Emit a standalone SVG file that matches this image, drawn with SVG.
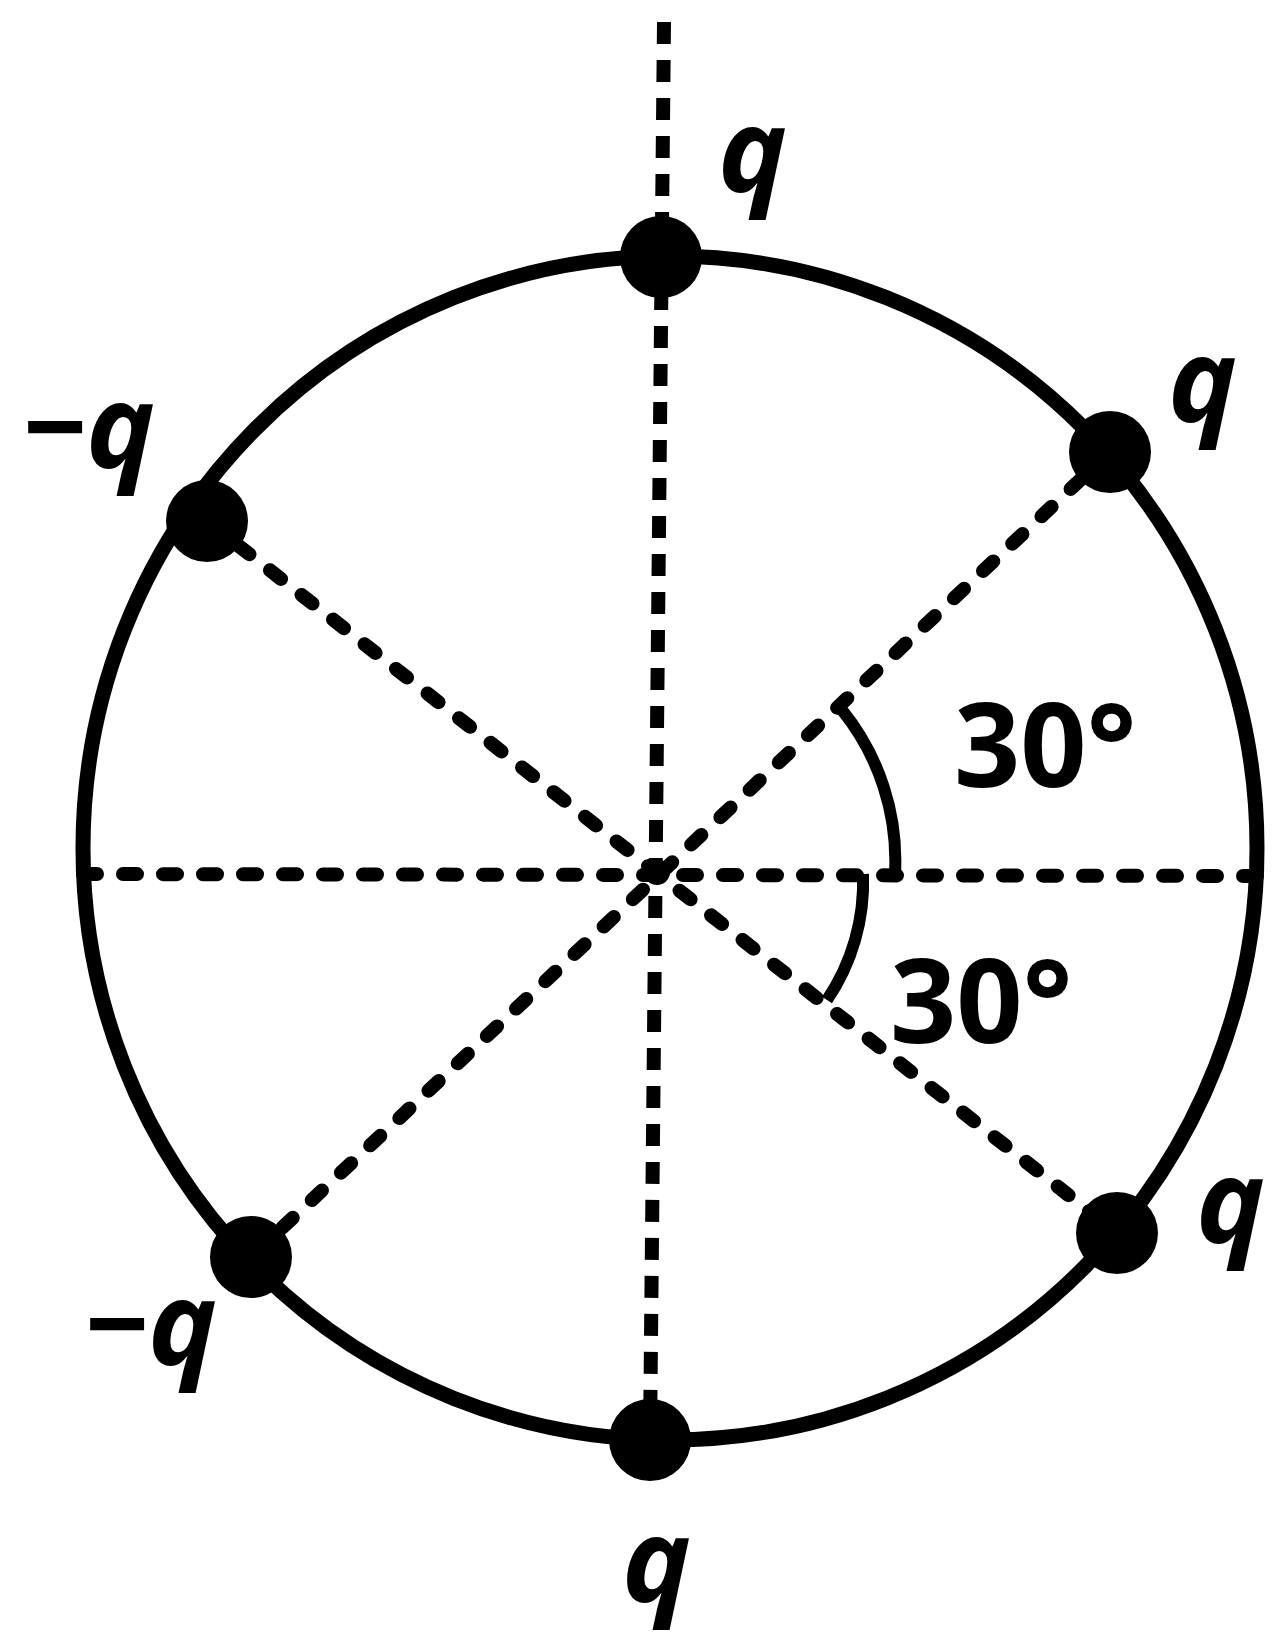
<svg xmlns="http://www.w3.org/2000/svg" width="1277" height="1647" viewBox="0 0 1277 1647">
<style>
.ring{fill:none;stroke:#000;stroke-width:15}
.dash{fill:none;stroke:#000;stroke-width:14;stroke-linecap:round;stroke-dasharray:14 26}
.vdash{fill:none;stroke:#000;stroke-width:14;stroke-dasharray:22 16}
.arc{fill:none;stroke:#000;stroke-width:12}
.charge{fill:#000}
.lbl{font-family:"Open Sans","DejaVu Sans",sans-serif;font-weight:bold;font-style:italic;font-size:116px;fill:#000}
.ang{font-family:"Open Sans","DejaVu Sans",sans-serif;font-weight:bold;font-size:116px;fill:#000}
</style>
<rect width="1277" height="1647" fill="#fff"/>
<g id="connectors">
<line class="vdash" x1="664" y1="22" x2="650" y2="1440"/>
<line class="dash" x1="83" y1="874" x2="1257" y2="876"/>
<line class="dash" x1="207" y1="521" x2="1117" y2="1233"/>
<line class="dash" x1="1110" y1="452" x2="251" y2="1257"/>
<circle cx="657" cy="872" r="13" fill="#000"/>
</g>
<g id="ring">
<ellipse class="ring" cx="670" cy="848" rx="587" ry="592"/>
</g>
<g id="angles">
<path class="arc" d="M842 710 A240 240 0 0 1 895 874"/>
<path class="arc" d="M863 874 A210 210 0 0 1 827 1000"/>
<text class="ang" x="954" y="787">30°</text>
<text class="ang" x="890" y="1043">30°</text>
</g>
<g id="charge-top">
<circle class="charge" cx="661" cy="257" r="41"/>
<text class="lbl" x="718" y="192">q</text>
</g>
<g id="charge-upper-left">
<circle class="charge" cx="207" cy="521" r="41"/>
<text class="lbl" x="22" y="468">−q</text>
</g>
<g id="charge-upper-right">
<circle class="charge" cx="1110" cy="452" r="41"/>
<text class="lbl" x="1168" y="422">q</text>
</g>
<g id="charge-lower-right">
<circle class="charge" cx="1117" cy="1233" r="41"/>
<text class="lbl" x="1196" y="1243">q</text>
</g>
<g id="charge-lower-left">
<circle class="charge" cx="251" cy="1257" r="41"/>
<text class="lbl" x="84" y="1365">−q</text>
</g>
<g id="charge-bottom">
<circle class="charge" cx="650" cy="1440" r="41"/>
<text class="lbl" x="622" y="1602">q</text>
</g>
</svg>
